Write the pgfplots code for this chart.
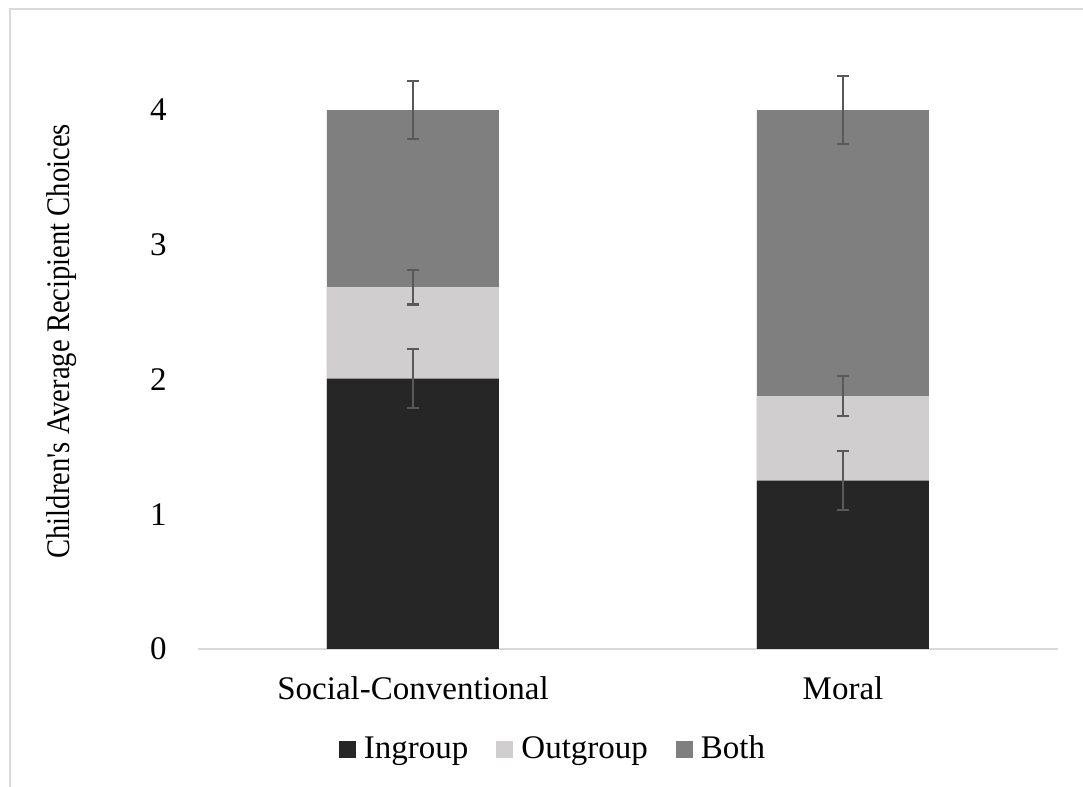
\documentclass[border=0pt]{standalone}
\usepackage{graphicx}
\usepackage{pgfplots}
\pgfplotsset{compat=1.18}
\usepackage{fontspec}
\setmainfont{Liberation Serif}[Ligatures=TeXOff]
\definecolor{cin}{HTML}{262626}
\definecolor{cout}{HTML}{D0CECE}
\definecolor{cboth}{HTML}{7F7F7F}
\definecolor{cerr}{HTML}{595959}
\definecolor{caxis}{HTML}{D9D9D9}
\begin{document}
\fontsize{16.5}{19}\selectfont
\begin{tikzpicture}
\useasboundingbox (-99pt,-69pt) rectangle (442.5pt,324.5pt);
\draw[color=caxis, line width=1.2pt] (-94pt,-80pt) -- (-94pt,320pt) -- (460pt,320pt);
\begin{axis}[
  at={(0pt,0pt)}, anchor=south west,
  scale only axis, width=430pt, height=269.5pt,
  xmin=-0.5, xmax=1.5, ymin=0, ymax=4,
  clip=false,
  axis x line*=bottom, axis y line*=left,
  y axis line style={draw=none},
  x axis line style={draw=caxis, line width=1pt, -},
  xtick={0,1}, xticklabels={Social-Conventional, Moral},
  ytick={0,1,2,3,4},
  major tick length=0pt,
  tick label style={font=\fontsize{16.5}{19}\selectfont},
  /pgf/number format/assume math mode=true,
  yticklabel style={xshift=-10pt},
  xticklabel style={yshift=-8pt},
  ylabel={\scalebox{0.867}[1]{Children's Average Recipient Choices}},
  ylabel style={at={(axis description cs:-0.158,0.571)}, anchor=center, font=\fontsize{16.5}{19}\selectfont},
  legend image code/.code={\fill[#1] (0pt,-4.25pt) rectangle (8.5pt,4.25pt);},
  legend style={at={(0.414,-0.187)}, anchor=center, draw=none, fill=none,
    legend columns=3, font=\fontsize{16.5}{19}\selectfont,
    /tikz/every even column/.append style={column sep=12pt},
    /tikz/every odd column/.append style={column sep=2pt}},
  error bars/error bar style={line width=1.1pt, color=cerr},
  error bars/error mark options={rotate=90, mark size=3.2pt, line width=1.1pt, color=cerr},
]
\addlegendimage{fill=cin, draw=none}
\addlegendentry{Ingroup}
\addlegendimage{fill=cout, draw=none}
\addlegendentry{Outgroup}
\addlegendimage{fill=cboth, draw=none}
\addlegendentry{Both}
% cumulative tops: Both (total), Ingroup+Outgroup, Ingroup
\addplot[ybar, bar width=0.4, bar shift=0pt, fill=cboth, draw=none, forget plot,
  error bars/.cd, y dir=both, y explicit]
  coordinates {(0,4.00) +- (0,0.213) (1,4.00) +- (0,0.253)};
\addplot[ybar, bar width=0.4, bar shift=0pt, fill=cout, draw=none, forget plot,
  error bars/.cd, y dir=both, y explicit]
  coordinates {(0,2.686) +- (0,0.129) (1,1.876) +- (0,0.149)};
\addplot[ybar, bar width=0.4, bar shift=0pt, fill=cin, draw=none, forget plot,
  error bars/.cd, y dir=both, y explicit]
  coordinates {(0,2.007) +- (0,0.219) (1,1.249) +- (0,0.220)};
\end{axis}
\end{tikzpicture}
\end{document}
